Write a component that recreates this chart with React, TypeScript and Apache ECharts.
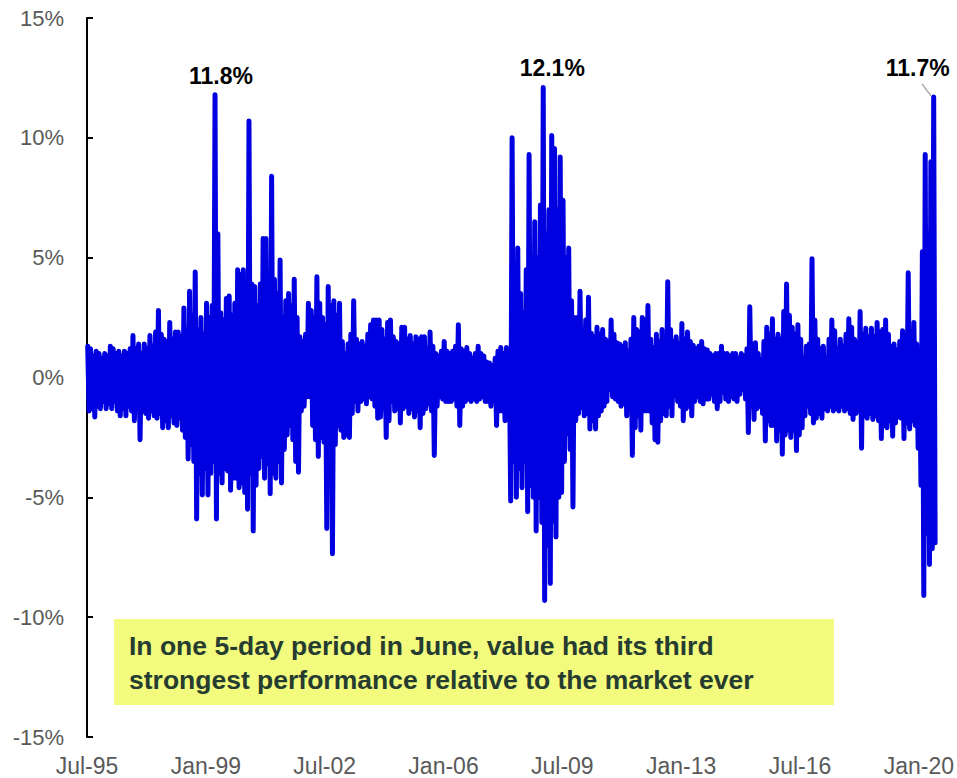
import React, { useEffect, useRef } from 'react';
import * as echarts from 'echarts';

// X axis: month index from Jul-95 (0) to Jun-20 (299); a tick label every 42 months
const xTickLabels = ['Jul-95', 'Jan-99', 'Jul-02', 'Jan-06', 'Jul-09', 'Jan-13', 'Jul-16', 'Jan-20'];
const monthsPerTick = 42;
const totalMonths = 300;

// Y axis ticks (%)
const yMin = -15;
const yMax = 15;
const yStep = 5;

// Highest 5-day relative return (%) read for each month, Jul-95 .. Jun-20 (12 per row)
const monthHigh = [
  1.3, 1.2, 0.9, 1.1, 1.0, 0.8, 1.0, 0.9, 1.3, 1.2, 1.0, 1.1,
  0.9, 1.1, 1.0, 1.2, 1.75, 1.2, 1.4, 1.0, 1.4, 1.2, 1.75, 1.3,
  1.9, 2.8, 1.8, 1.6, 1.5, 2.3, 1.6, 1.9, 1.9, 1.7, 2.9, 2.0,
  3.6, 2.6, 4.4, 2.0, 2.5, 1.8, 3.1, 2.5, 3.0, 11.8, 6.0, 2.7,
  2.4, 3.3, 3.4, 2.6, 3.1, 4.5, 4.3, 4.5, 3.8, 10.7, 3.9, 3.8,
  3.0, 3.9, 5.8, 5.8, 4.0, 8.4, 4.1, 3.5, 4.9, 2.5, 3.2, 3.5,
  3.0, 4.1, 2.5, 1.7, 1.5, 1.8, 3.1, 2.8, 2.5, 4.2, 3.1, 2.5,
  2.2, 3.8, 3.0, 3.2, 2.6, 3.1, 1.5, 1.0, 1.4, 1.8, 3.2, 1.6,
  1.4, 1.5, 1.3, 1.8, 2.2, 2.4, 2.4, 2.4, 2.0, 1.6, 2.3, 2.4,
  1.7, 1.5, 1.4, 2.1, 2.1, 1.6, 1.75, 1.4, 1.7, 1.6, 1.7, 1.7,
  1.2, 1.9, 1.3, 1.0, 0.9, 1.1, 1.5, 1.1, 1.0, 1.1, 1.3, 2.2,
  1.2, 1.1, 1.25, 1.0, 0.8, 1.0, 1.3, 1.0, 0.9, 0.65, 0.6, 0.5,
  0.8, 1.1, 1.25, 1.0, 1.25, 1.0, 10.0, 4.0, 5.4, 3.5, 2.7, 4.5,
  9.3, 5.0, 6.5, 5.0, 7.2, 12.1, 6.0, 7.0, 10.1, 9.55, 7.0, 9.2,
  7.4, 5.0, 5.4, 3.2, 2.5, 2.5, 3.6, 2.0, 2.4, 3.35, 1.85, 1.7,
  2.1, 1.8, 2.0, 1.6, 1.5, 2.4, 1.8, 1.45, 1.4, 1.3, 1.45, 1.1,
  1.6, 2.5, 2.0, 1.9, 2.5, 2.4, 3.0, 1.6, 1.25, 1.8, 1.5, 2.0,
  1.6, 4.0, 2.0, 1.5, 1.7, 1.4, 2.25, 1.6, 1.9, 1.5, 1.35, 1.2,
  1.3, 1.5, 1.2, 1.15, 1.0, 0.9, 1.0, 1.0, 1.3, 1.0, 1.0, 0.9,
  1.0, 1.0, 0.8, 1.0, 0.9, 1.2, 2.95, 1.4, 1.45, 1.0, 0.75, 1.5,
  2.1, 1.8, 2.45, 1.6, 1.8, 1.6, 2.75, 3.9, 2.6, 2.1, 1.8, 2.2,
  1.6, 0.8, 1.3, 1.4, 4.96, 2.4, 1.6, 1.2, 1.3, 0.8, 1.6, 2.4,
  1.95, 1.2, 1.6, 1.3, 1.8, 2.45, 2.1, 1.6, 1.45, 2.75, 1.8, 2.05,
  1.7, 2.05, 1.7, 2.3, 1.9, 2.0, 2.4, 1.8, 1.3, 1.4, 1.15, 1.5,
  1.95, 1.6, 4.37, 1.8, 2.3, 1.4, 1.15, 5.25, 9.3, 6.0, 9.0, 11.7,
];

// Lowest 5-day relative return (%) read for each month, Jul-95 .. Jun-20 (12 per row)
const monthLow = [
  -1.4, -1.3, -1.65, -1.2, -1.3, -1.0, -1.3, -1.1, -1.3, -1.0, -1.4, -1.6,
  -1.3, -1.6, -1.2, -1.4, -1.8, -1.3, -2.6, -1.4, -1.5, -1.7, -1.4, -1.6,
  -1.7, -1.5, -2.1, -1.8, -2.1, -1.6, -1.9, -2.0, -1.7, -2.2, -2.5, -3.4,
  -2.8, -3.5, -5.9, -4.0, -4.9, -3.8, -4.9, -4.0, -3.5, -5.9, -4.0, -4.4,
  -3.8, -3.9, -4.7, -4.2, -4.2, -4.6, -4.4, -4.8, -5.5, -4.0, -6.4, -4.5,
  -3.8, -3.3, -4.2, -3.6, -4.85, -4.0, -4.2, -3.5, -4.4, -3.0, -2.4, -2.0,
  -2.6, -3.5, -3.95, -1.4, -1.2, -0.8, -0.8, -2.0, -2.6, -3.3, -2.5, -2.7,
  -6.3, -3.0, -7.35, -2.8, -2.0, -2.2, -2.5, -2.4, -2.5, -1.5, -1.0, -1.4,
  -1.0, -0.9, -1.1, -0.8, -0.9, -1.2, -1.7, -1.65, -1.3, -2.5, -1.8, -1.0,
  -1.4, -1.3, -1.9, -1.3, -1.2, -1.5, -1.3, -1.65, -1.4, -2.1, -1.5, -1.3,
  -1.1, -1.4, -3.25, -1.2, -0.8, -0.9, -1.0, -1.0, -1.0, -0.9, -1.2, -2.0,
  -1.2, -1.0, -0.9, -1.0, -0.9, -1.0, -0.9, -0.8, -1.0, -1.0, -1.2, -0.9,
  -2.0, -1.4, -1.4, -1.8, -1.6, -5.15, -3.5, -5.0, -3.8, -4.6, -3.5, -5.6,
  -4.5, -5.0, -6.4, -5.0, -6.05, -9.3, -7.0, -8.6, -6.0, -6.65, -5.0, -4.8,
  -3.5, -2.35, -3.0, -5.4, -1.8, -1.5, -1.25, -1.6, -1.5, -2.15, -1.8, -2.15,
  -1.6, -1.4, -1.2, -1.0, -0.5, -0.8, -0.9, -1.0, -1.2, -1.1, -1.6, -1.3,
  -3.25, -2.1, -1.6, -2.2, -1.4, -1.4, -1.4, -1.9, -2.6, -2.7, -1.8, -1.5,
  -1.6, -1.2, -1.6, -0.75, -1.0, -1.2, -1.8, -1.3, -1.2, -1.6, -1.0, -0.8,
  -1.0, -1.1, -0.9, -0.9, -0.7, -1.0, -1.3, -1.0, -0.6, -0.9, -1.0, -0.8,
  -0.9, -1.0, -0.7, -0.5, -0.9, -2.3, -1.2, -1.75, -1.3, -1.2, -1.5, -2.65,
  -1.8, -2.0, -2.0, -2.65, -2.2, -3.2, -2.4, -2.2, -2.5, -2.2, -3.05, -2.4,
  -2.1, -1.6, -1.2, -1.5, -1.9, -1.7, -1.5, -1.7, -1.3, -1.4, -1.2, -1.4,
  -1.3, -1.4, -1.2, -1.4, -1.3, -1.5, -1.75, -1.5, -1.4, -2.95, -1.6, -1.7,
  -1.5, -1.75, -1.6, -1.8, -2.55, -2.0, -2.1, -1.8, -2.45, -1.9, -1.65, -1.7,
  -2.55, -1.9, -2.15, -1.8, -2.0, -2.95, -4.5, -9.1, -6.5, -7.8, -7.15, -6.9,
];

// Peak annotations: month index, value (%), label text
const peakMonths = [45, 161, 299];
const peakValues = [11.8, 12.1, 11.7];
const peakTexts = ['11.8%', '12.1%', '11.7%'];

// Leader line for the last peak label (data coords: month, %)
const leaderLine = [[295.1, 12.25], [298.3, 11.75]];

const noteLines = [
  'In one 5-day period in June, value had its third',
  'strongest performance relative to the market ever',
];

const FONT = "'Liberation Sans', Arial, Helvetica, sans-serif";

export default function App() {
  const ref = useRef<HTMLDivElement>(null);

  useEffect(() => {
    if (!ref.current) return;
    const chart = echarts.init(ref.current, null, { renderer: 'svg' });

    const seriesData: number[][] = [];
    monthHigh.forEach((h, i) => {
      seriesData.push([i + 0.25, h]);
      seriesData.push([i + 0.75, monthLow[i]]);
    });

    const labelOffsets: number[][] = [[6, -19], [9, -20], [-16, -29]];

    chart.setOption({
      animation: false,
      grid: { left: 87, top: 18, width: 850, height: 719, containLabel: false },
      xAxis: {
        type: 'value',
        min: 0,
        max: totalMonths,
        interval: monthsPerTick,
        axisLine: { show: false, onZero: false },
        axisTick: { show: false },
        splitLine: { show: false },
        axisLabel: {
          fontSize: 23,
          color: '#595959',
          fontFamily: FONT,
          margin: 17,
          showMaxLabel: false,
          formatter: (v: number) => {
            if (v % monthsPerTick !== 0) return '';
            return xTickLabels[v / monthsPerTick] ?? '';
          },
        },
      },
      yAxis: {
        type: 'value',
        min: yMin,
        max: yMax,
        interval: yStep,
        axisLine: { show: true, onZero: false, lineStyle: { color: '#000', width: 2 } },
        axisTick: { show: true, inside: true, length: 6, lineStyle: { color: '#000', width: 2 } },
        splitLine: { show: false },
        axisLabel: {
          fontSize: 22,
          color: '#595959',
          fontFamily: FONT,
          margin: 23,
          formatter: '{value}%',
        },
      },
      series: [
        {
          type: 'line',
          data: seriesData,
          showSymbol: false,
          symbol: 'none',
          silent: true,
          lineStyle: { color: '#0000E0', width: 5, cap: 'round', join: 'round' },
          markPoint: {
            silent: true,
            symbol: 'circle',
            symbolSize: 1,
            itemStyle: { color: 'rgba(0,0,0,0)' },
            label: {
              show: true,
              position: 'inside',
              formatter: '{b}',
              fontSize: 23,
              fontWeight: 'bold',
              color: '#000',
              fontFamily: FONT,
            },
            data: peakMonths.map((m, i) => ({
              name: peakTexts[i],
              coord: [m + 0.25, peakValues[i]],
              label: { offset: labelOffsets[i] },
            })),
          },
          markLine: {
            silent: true,
            symbol: ['none', 'none'],
            label: { show: false },
            lineStyle: { color: '#A6A6A6', width: 1.5, type: 'solid' },
            data: [[{ coord: leaderLine[0] }, { coord: leaderLine[1] }]],
          },
        },
      ],
      graphic: [
        {
          type: 'rect',
          shape: { x: 114, y: 619, width: 720, height: 86 },
          style: { fill: '#F2FB7E' },
          silent: true,
        },
        {
          type: 'text',
          x: 129,
          y: 646,
          style: {
            text: noteLines[0],
            fontSize: 26.5,
            fontWeight: 'bold',
            fontFamily: FONT,
            fill: '#263C30',
            align: 'left',
            verticalAlign: 'middle',
          },
          silent: true,
        },
        {
          type: 'text',
          x: 129,
          y: 680,
          style: {
            text: noteLines[1],
            fontSize: 26.5,
            fontWeight: 'bold',
            fontFamily: FONT,
            fill: '#263C30',
            align: 'left',
            verticalAlign: 'middle',
          },
          silent: true,
        },
      ],
    });

    return () => {
      chart.dispose();
    };
  }, []);

  return (
    <div
      ref={ref}
      style={{ position: 'absolute', left: 0, top: 0, width: 957, height: 778 }}
    />
  );
}
